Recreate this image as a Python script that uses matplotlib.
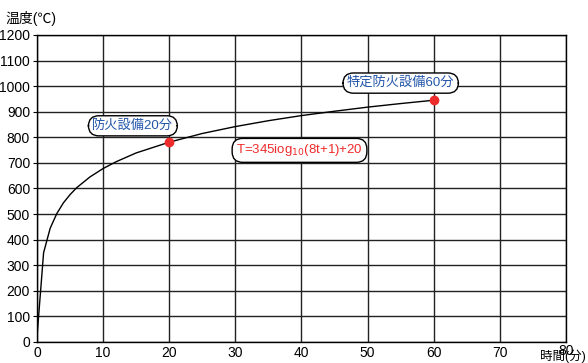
import matplotlib.pyplot as plt
import matplotlib.transforms as mtransforms

plt.rcParams['font.family'] = ['Liberation Sans', 'Noto Sans CJK JP', 'DejaVu Sans']

# Standard fire temperature curve, values read at selected minutes
minutes = [0, 1, 2, 3, 4, 5, 6, 8, 10, 12, 15, 20, 25, 30, 35, 40, 45, 50, 55, 60]
temps = [20, 349, 445, 502, 544, 576, 603, 645, 678, 705, 739, 781, 815, 842,
         865, 885, 902, 918, 932, 945]

# Marked points: fire equipment ratings
mark_t = [20, 60]
mark_T = [781, 945]
mark_labels = ['防火設備20分', '特定防火設備60分']

x_ticks = [0, 10, 20, 30, 40, 50, 60, 70, 80]
y_ticks = list(range(0, 1300, 100))

fig = plt.figure(figsize=(5.88, 3.63), dpi=100)
ax = fig.add_axes([0.0629, 0.0579, 0.8997, 0.8457])

ax.plot(minutes, temps, color='black', lw=1.0, zorder=3)
ax.plot(mark_t, mark_T, 'o', color='#ee2b2b', ms=6, zorder=4)

ax.set_xlim(0, 80)
ax.set_ylim(0, 1200)
ax.set_xticks(x_ticks)
ax.set_yticks(y_ticks)
ax.grid(True, color='#222222', lw=1.0)
for s in ax.spines.values():
    s.set_color('black')
    s.set_linewidth(1.0)
ax.tick_params(axis='x', length=0, pad=3, labelsize=10)
ax.tick_params(axis='y', length=3, pad=2, labelsize=10)

# lift the last x label a little so it clears the axis title below it
last = ax.get_xticklabels()[-1]
last.set_transform(last.get_transform() +
                   mtransforms.ScaledTranslation(0, 2 / 100, fig.dpi_scale_trans))

box = dict(boxstyle='round,pad=0.3,rounding_size=0.8', fc='white',
           ec='black', lw=1.0)
ax.text(14.5, 845, mark_labels[0], color='#2255aa', fontsize=9.5,
        ha='center', va='center', bbox=box, zorder=5)
ax.text(55.0, 1012, mark_labels[1], color='#2255aa', fontsize=9.5,
        ha='center', va='center', bbox=box, zorder=5)
ax.text(39.7, 749, 'T=345iog$_{10}$(8t+1)+20', color='#ee2b2b', fontsize=9.5,
        ha='center', va='center', bbox=box, zorder=5)

fig.text(5 / 588, 1 - 18 / 363, '温度(℃)', fontsize=10, ha='left', va='center')
fig.text(586 / 588, 0, '時間(分)', fontsize=9, ha='right', va='bottom')

fig.savefig('out.png', dpi=100)
